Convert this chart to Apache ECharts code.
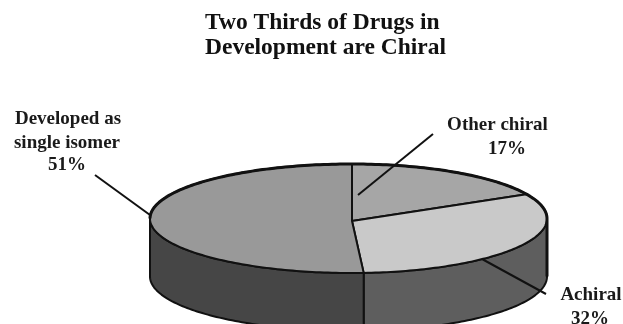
<!DOCTYPE html>
<html>
<head>
<meta charset="utf-8">
<style>html,body{margin:0;padding:0;background:#fff}#c{width:623px;height:324px}</style>
<script src="https://cdn.jsdelivr.net/npm/echarts@6/dist/echarts.min.js"></script>
</head>
<body>
<div id="c"></div>
<script>
// Share of drugs in development, clockwise from twelve o'clock
const categories = ['Other chiral', 'Achiral', 'Developed as single isomer'];
const shares = [17, 32, 51];
const titleLines = ['Two Thirds of Drugs in', 'Development are Chiral'];

const topColors = ['#a6a6a6', '#c9c9c9', '#999999'];
const sideColors = ['#666666', '#5e5e5e', '#464646'];

// Tilted disc seen from above; the hub sits a little below the rim's centre,
// and the near side of the rim bulges slightly to the left
const disc = { cx: 352, cy: 218.5, rxRight: 195, rxLeft: 202, ry: 54.5, depth: 58, hubY: 221 };
const serif = '"Liberation Serif", "Times New Roman", serif';

function rim(t, drop) {
  const s = Math.sin(t);
  const rx = s >= 0 ? disc.rxRight : disc.rxLeft;
  return [disc.cx + rx * s, disc.cy - disc.ry * Math.cos(t) + (drop || 0)];
}
function arcPoints(a, b, drop) {
  const n = Math.max(2, Math.ceil(Math.abs(b - a) / 0.02));
  const pts = [];
  for (let i = 0; i <= n; i++) pts.push(rim(a + (b - a) * i / n, drop));
  return pts;
}
// Rim parameter reached by a spoke leaving the off-centre hub at sweep angle t
function spokeEnd(t) {
  const hy = (disc.hubY - disc.cy) / disc.ry;
  const dx = Math.sin(t), dy = -Math.cos(t);
  const hd = hy * dy;
  const s = -hd + Math.sqrt(hd * hd - hy * hy + 1);
  const T = Math.atan2(dx * s, -(hy + dy * s));
  return T < -1e-6 ? T + 2 * Math.PI : Math.max(T, 0);
}

const total = shares.reduce((s, v) => s + v, 0);
const startAngles = [];
shares.reduce((acc, v, i) => { startAngles[i] = acc; return acc + v; }, 0);

function renderSlice(params, api) {
  const i = params.dataIndex;
  const start = api.value(1), size = api.value(0);
  const a = spokeEnd(start / total * 2 * Math.PI);
  const b = start + size >= total ? 2 * Math.PI : spokeEnd((start + size) / total * 2 * Math.PI);
  const children = [];
  // visible wall: only the front half of the rim
  const wa = Math.max(a, Math.PI / 2);
  const wb = Math.min(b, Math.PI * 1.5);
  if (wb > wa) {
    const upper = arcPoints(wa, wb, 0);
    const lower = arcPoints(wb, wa, disc.depth);
    children.push({
      type: 'polygon',
      shape: { points: upper.concat(lower) },
      style: { fill: sideColors[i], stroke: '#111', lineWidth: 2, lineJoin: 'round' }
    });
  }
  const wedge = [[disc.cx, disc.hubY]].concat(arcPoints(a, b, 0));
  children.push({
    type: 'polygon',
    shape: { points: wedge },
    style: { fill: topColors[i], stroke: '#111', lineWidth: 2, lineJoin: 'round' }
  });
  return { type: 'group', children: children };
}

// Heavier outline along the far rim and down the right edge of the wall
function heavyRim() {
  const pts = arcPoints(-Math.PI * 0.5, Math.PI * 0.5, 0);
  pts.push(rim(Math.PI * 0.5, disc.depth));
  return { type: 'polyline', silent: true, z: 5,
    shape: { points: pts },
    style: { fill: null, stroke: '#111', lineWidth: 3, lineJoin: 'round' } };
}

function leader(x1, y1, x2, y2) {
  return { type: 'line', z: 6, shape: { x1, y1, x2, y2 }, style: { stroke: '#111', lineWidth: 2 } };
}
function caption(text, x, y) {
  return { type: 'text', z: 7, x, y,
    style: { text, fill: '#1a1a1a', font: 'bold 19px ' + serif, align: 'center', verticalAlign: 'middle' } };
}
function heading(text, y) {
  return { type: 'text', x: 205, y,
    style: { text, fill: '#111', font: 'bold 23.5px ' + serif, align: 'left', verticalAlign: 'middle' } };
}

const chart = echarts.init(document.getElementById('c'), null, { renderer: 'canvas' });
const nameRows = categories[2].replace(' as ', ' as\n').split('\n');
chart.setOption({
  animation: false,
  backgroundColor: '#ffffff',
  graphic: { elements: [
    heading(titleLines[0], 23),
    heading(titleLines[1], 48),
    heavyRim(),
    leader(95, 175, 150, 215),
    leader(433, 134, 358, 195),
    leader(482, 259, 546, 294),
    caption(nameRows[0], 68, 119),
    caption(nameRows[1], 67, 143),
    caption(shares[2] + '%', 67, 165),
    caption(categories[0], 497.5, 125),
    caption(shares[0] + '%', 507, 149),
    caption(categories[1], 591, 295),
    caption(shares[1] + '%', 590, 319)
  ] },
  series: [{
    type: 'custom',
    coordinateSystem: 'none',
    renderItem: renderSlice,
    data: shares.map((v, i) => ({ name: categories[i], value: [v, startAngles[i]] }))
  }]
});
</script>
</body>
</html>
